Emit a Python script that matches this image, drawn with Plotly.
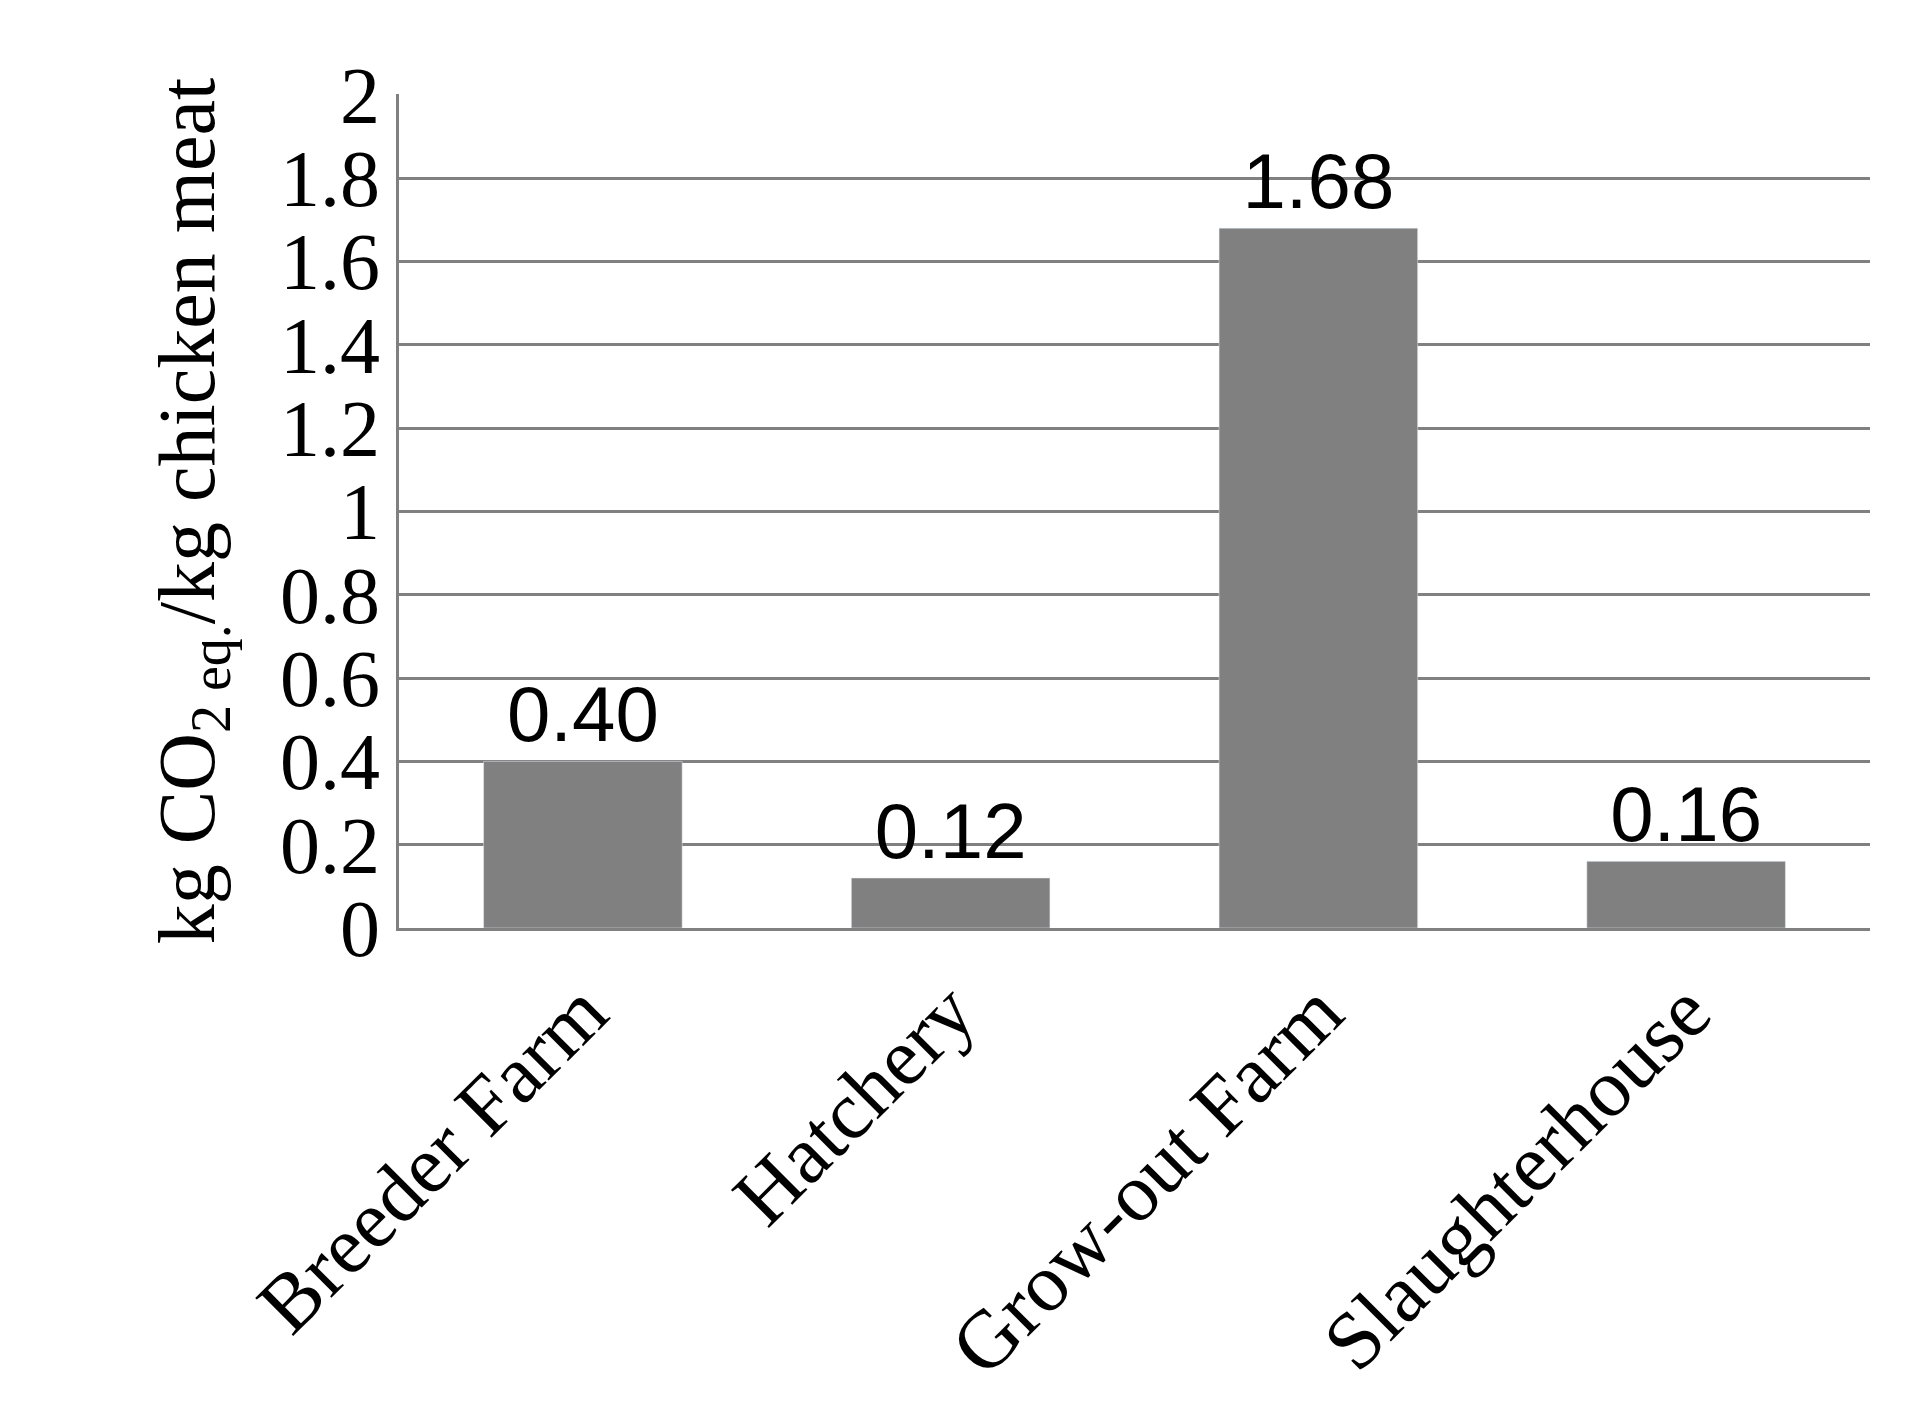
import plotly.graph_objects as go

categories = ["Breeder Farm", "Hatchery", "Grow-out Farm", "Slaughterhouse"]
values = [0.40, 0.12, 1.68, 0.16]
labels = ["0.40", "0.12", "1.68", "0.16"]
tick_vals = [0, 0.2, 0.4, 0.6, 0.8, 1, 1.2, 1.4, 1.6, 1.8, 2]
tick_text = ["0", "0.2", "0.4", "0.6", "0.8", "1", "1.2", "1.4", "1.6", "1.8", "2"]

fig = go.Figure(go.Bar(
    x=categories, y=values, text=labels, textposition="outside",
    textfont=dict(family="Liberation Sans", size=78, color="black"),
    marker=dict(color="#808080"), cliponaxis=False,
))
fig.update_layout(
    width=1905, height=1413, plot_bgcolor="white", paper_bgcolor="white",
    margin=dict(l=391, r=43, t=86, b=493), bargap=0.46, showlegend=False,
    font=dict(family="Liberation Serif", color="black"),
)
fig.update_yaxes(range=[0, 2.002], tickvals=tick_vals, ticktext=tick_text,
                 tickfont=dict(size=80), showgrid=True, gridcolor="#808080", gridwidth=3,
                 showline=True, linecolor="#808080", linewidth=3, ticks="",
                 zeroline=False,
                 title=dict(text="kg CO<sub>2 eq.</sub>/kg chicken meat", font=dict(size=80), standoff=40))
fig.update_xaxes(tickangle=-45, tickfont=dict(size=82), showline=True,
                 linecolor="#808080", linewidth=3)
fig.write_html("out.html")
